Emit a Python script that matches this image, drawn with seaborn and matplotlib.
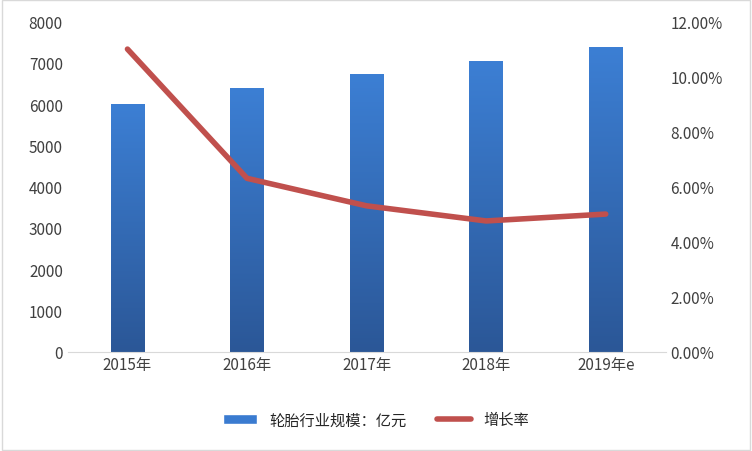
import numpy as np
import pandas as pd
import seaborn as sns
import matplotlib.pyplot as plt
from matplotlib.colors import LinearSegmentedColormap
from matplotlib.lines import Line2D
from matplotlib.patches import Patch

years = ["2015年", "2016年", "2017年", "2018年", "2019年e"]
scale = [6000, 6400, 6730, 7050, 7380]
growth = [0.110, 0.063, 0.053, 0.0475, 0.050]

sns.set_style("white")
plt.rcParams['font.family'] = ['Noto Sans CJK SC', 'DejaVu Sans']

df = pd.DataFrame({"year": years, "scale": scale, "growth": growth})

fig = plt.figure(figsize=(7.52, 4.52), dpi=100)
ax = fig.add_axes([0.09, 0.22, 0.795, 0.73])
sns.barplot(data=df, x="year", y="scale", color="#3a7bd0", width=0.28, ax=ax)

# vertical gradient on bars
cmap = LinearSegmentedColormap.from_list("g", ["#2b5797", "#3c7fd4"])
grad = np.linspace(0, 1, 256).reshape(-1, 1)
for p in ax.patches:
    x0, y0, w, h = p.get_x(), p.get_y(), p.get_width(), p.get_height()
    im = ax.imshow(grad, cmap=cmap, origin="lower", aspect="auto",
                   extent=[x0, x0 + w, y0, y0 + h], zorder=p.get_zorder())
    im.set_clip_path(p)
ax.set_xlim(-0.5, 4.5)
ax.set_ylim(0, 8000)
ax.set_yticks(range(0, 8001, 1000))
ax.set_xlabel("")
ax.set_ylabel("")
for s in ["top", "right", "left"]:
    ax.spines[s].set_visible(False)
ax.spines["bottom"].set_color("#d9d9d9")
ax.tick_params(labelsize=11, colors="#404040", length=0)

ax2 = ax.twinx()
sns.lineplot(x=np.arange(len(years)), y=growth, color="#c0504d", linewidth=4, ax=ax2)
ax2.set_ylim(0, 0.12)
ax2.set_yticks(np.arange(0, 0.1201, 0.02))
ax2.set_yticklabels([f"{v*100:.2f}%" for v in np.arange(0, 0.1201, 0.02)])
for s in ["top", "right", "left", "bottom"]:
    ax2.spines[s].set_visible(False)
ax2.tick_params(labelsize=11, colors="#404040", length=0)

handles = [Patch(facecolor="#3a7bd0", label="轮胎行业规模：亿元"),
           Line2D([0], [0], color="#c0504d", lw=4, label="增长率")]
fig.legend(handles=handles, loc="lower center", ncol=2, frameon=False,
           fontsize=11, bbox_to_anchor=(0.5, 0.02), handlelength=2.2)

fig.patches.append(plt.Rectangle((0.002, 0.002), 0.996, 0.996, transform=fig.transFigure,
                                 fill=False, edgecolor="#d9d9d9", lw=1))
fig.savefig("out.png", dpi=100)
